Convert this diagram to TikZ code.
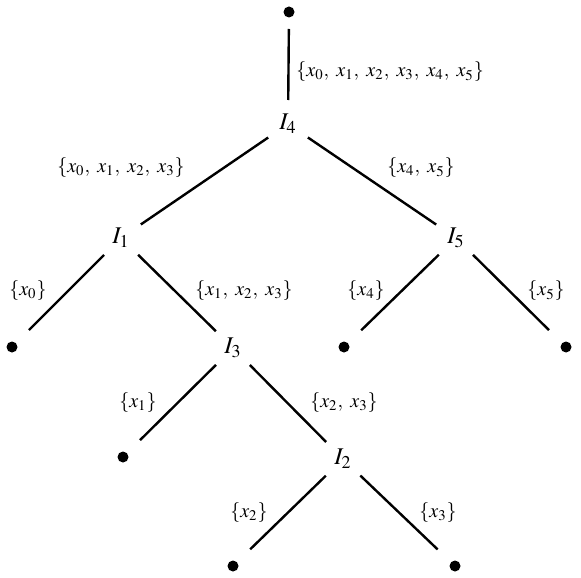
\documentclass[tikz,border=0pt]{standalone}
\usepackage{mathptmx}
\usetikzlibrary{positioning}

\begin{document}
\begin{tikzpicture}[x=0.5pt,y=-0.5pt,
  leaf/.style={circle, fill, inner sep=0pt, minimum size=5.5pt},
  split/.style={font=\large, inner sep=0pt},
  edge/.style={line width=1.2pt, shorten <=12pt, shorten >=12pt},
  lbl/.style={inner sep=0pt, execute at begin node={\thinmuskip=6.5mu}}]
\useasboundingbox (0,0) rectangle (581,577);
\node[leaf] (root) at (289,12) {};
\node[split] (I4) at (288,124) {$I_4$};
\node[split] (I1) at (121,238) {$I_1$};
\node[split] (I5) at (456,238) {$I_5$};
\node[leaf] (x0) at (12,347) {};
\node[split] (I3) at (233,348) {$I_3$};
\node[leaf] (x4) at (344,347) {};
\node[leaf] (x5) at (566,347) {};
\node[leaf] (x1) at (123,457) {};
\node[split] (I2) at (343,459) {$I_2$};
\node[leaf] (x2) at (233,566) {};
\node[leaf] (x3) at (455,566) {};
\draw[edge, shorten <=8.5pt] (root.center) -- (I4.center);
\draw[edge] (I4.center) -- (I1.center);
\draw[edge] (I4.center) -- (I5.center);
\draw[edge] (I1.center) -- (x0.center);
\draw[edge] (I1.center) -- (I3.center);
\draw[edge] (I5.center) -- (x4.center);
\draw[edge] (I5.center) -- (x5.center);
\draw[edge] (I3.center) -- (x1.center);
\draw[edge] (I3.center) -- (I2.center);
\draw[edge] (I2.center) -- (x2.center);
\draw[edge] (I2.center) -- (x3.center);
\node[lbl, anchor=west] (l45) at (296,72) {$\{x_0, x_1, x_2, x_3, x_4, x_5\}$};
\node[lbl] (l14) at (121,168) {$\{x_0, x_1, x_2, x_3\}$};
\node[lbl] (l54) at (421,168) {$\{x_4, x_5\}$};
\node[lbl] (l01) at (28,291) {$\{x_0\}$};
\node[lbl] (l31) at (244,291) {$\{x_1, x_2, x_3\}$};
\node[lbl] (l45b) at (366,291) {$\{x_4\}$};
\node[lbl] (l55) at (546,291) {$\{x_5\}$};
\node[lbl] (l13) at (138,403) {$\{x_1\}$};
\node[lbl] (l23) at (344,403) {$\{x_2, x_3\}$};
\node[lbl] (l22) at (249,513) {$\{x_2\}$};
\node[lbl] (l32) at (438,513) {$\{x_3\}$};
\end{tikzpicture}
\end{document}
